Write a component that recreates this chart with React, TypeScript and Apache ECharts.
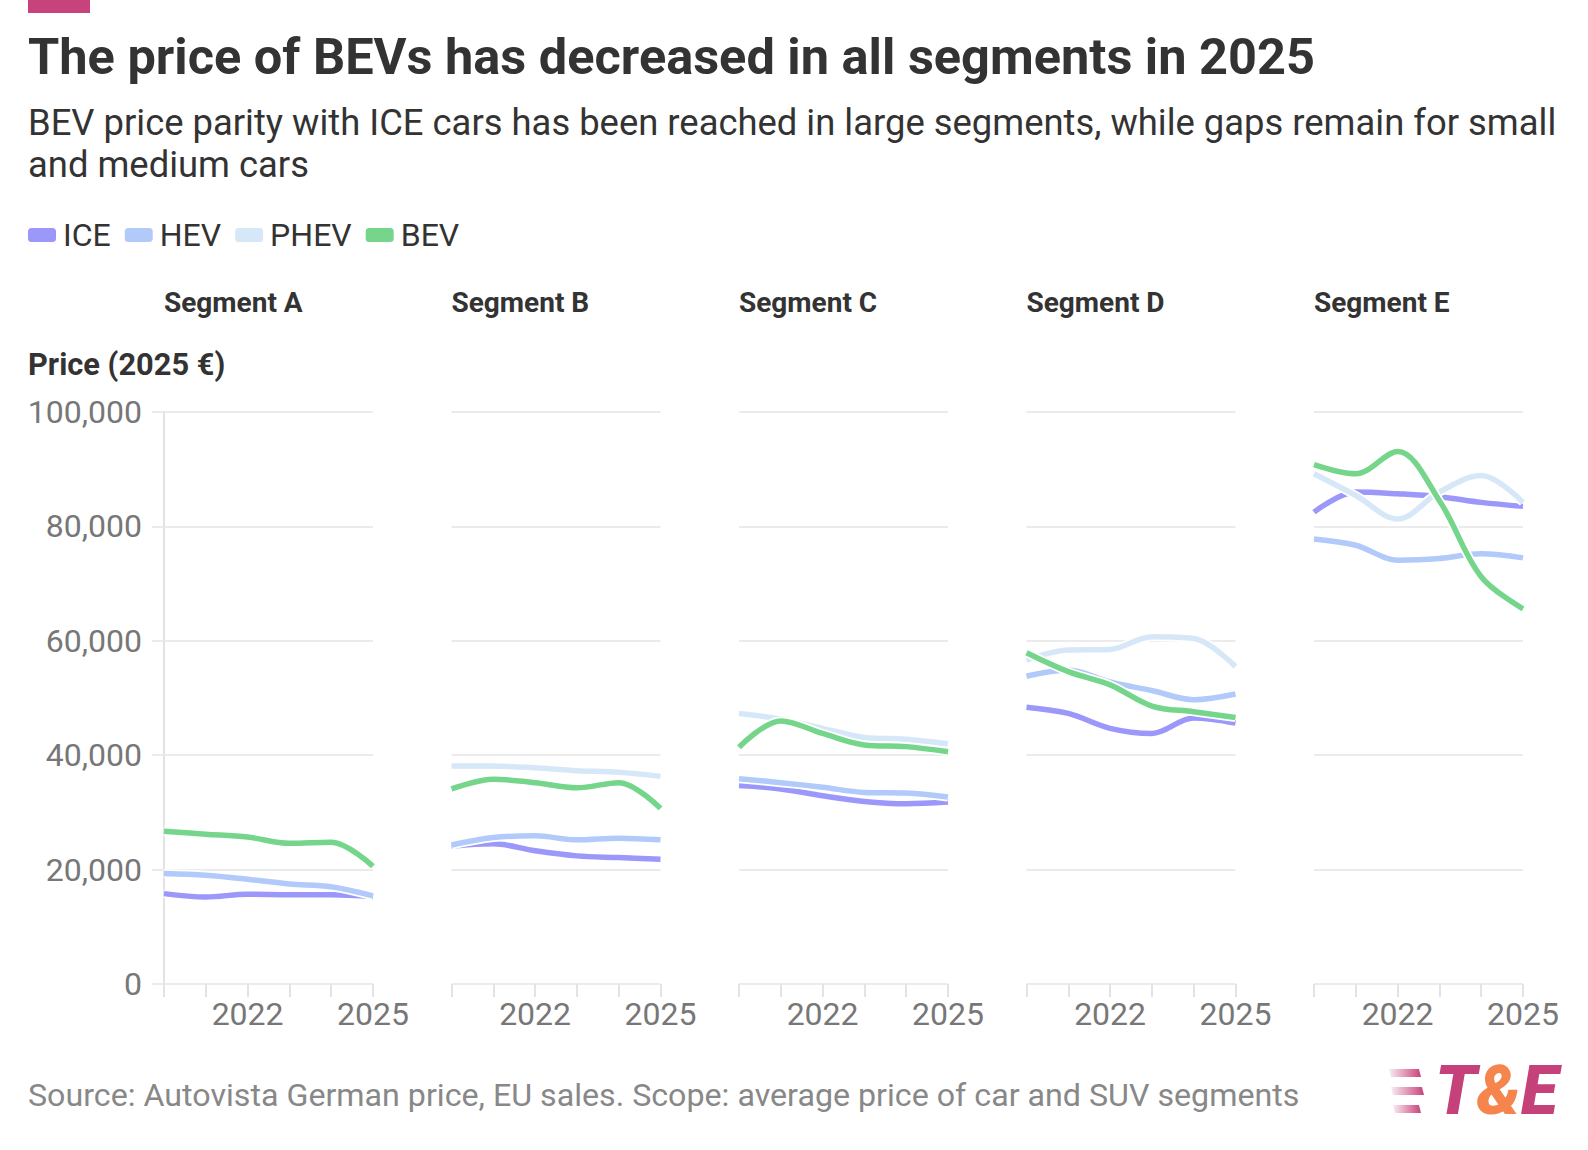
import React, { useEffect, useRef } from 'react';
import * as echarts from 'echarts';

const years = ['2020', '2021', '2022', '2023', '2024', '2025'];
const labelledYears = ['2022', '2025'];
const segments = ['Segment A', 'Segment B', 'Segment C', 'Segment D', 'Segment E'];
const powertrains = ['ICE', 'HEV', 'PHEV', 'BEV'];

// one row per segment, one value per year (2025 €)
const iceData = [
  [15800, 15200, 15700, 15600, 15600, 15300],
  [24100, 24500, 23300, 22400, 22100, 21800],
  [34700, 34100, 32900, 31900, 31500, 31800],
  [48400, 47300, 44700, 43800, 46500, 45600],
  [82500, 86000, 85700, 85200, 84200, 83500],
];
const hevData = [
  [19300, 19000, 18300, 17500, 17000, 15400],
  [24300, 25600, 25900, 25200, 25500, 25200],
  [35900, 35200, 34400, 33500, 33400, 32700],
  [53800, 54900, 52800, 51300, 49700, 50700],
  [77800, 76700, 74100, 74400, 75200, 74500],
];
const phevData = [
  null,
  [38100, 38100, 37800, 37300, 37000, 36300],
  [47300, 46300, 44700, 43100, 42800, 42000],
  [56600, 58400, 58500, 60700, 60400, 55500],
  [89200, 85400, 81300, 86000, 88900, 84200],
];
const bevData = [
  [26700, 26200, 25700, 24600, 24800, 20600],
  [34100, 35800, 35200, 34300, 35200, 30700],
  [41400, 46000, 43800, 41800, 41500, 40600],
  [57900, 54600, 52300, 48600, 47600, 46600],
  [90800, 89200, 93100, 84500, 71200, 65600],
];

const colors = ['#9b98fa', '#b2caf9', '#d6e8f8', '#74d58b'];
const FONT = 'Roboto, "Noto Sans", sans-serif';
const GRID_COLOR = '#ebebeb';

const PriceChart: React.FC = () => {
  const chartRef = useRef<HTMLDivElement>(null);

  useEffect(() => {
    document.body.style.margin = '0';
    if (!chartRef.current) return;
    const chart = echarts.init(chartRef.current, null, { renderer: 'svg' });

    const allData = [iceData, hevData, phevData, bevData];
    const gridLeft = 164;
    const gridStep = 287.5;
    const gridWidth = 209;

    const grids = segments.map((_, i) => ({
      left: gridLeft + gridStep * i,
      top: 412,
      width: gridWidth,
      height: 572,
    }));

    const xAxes = segments.map((_, i) => ({
      type: 'category',
      gridIndex: i,
      data: years,
      boundaryGap: false,
      axisLine: { show: false },
      axisTick: { show: true, interval: 0, length: 13, lineStyle: { color: '#e3e3e3', width: 2 } },
      axisLabel: {
        interval: 0,
        margin: 14,
        fontSize: 32,
        fontFamily: FONT,
        color: '#777',
        formatter: (v: string) => (labelledYears.includes(v) ? v : ''),
      },
      splitLine: { show: false },
    }));

    const yAxes = segments.map((_, i) => ({
      type: 'value',
      gridIndex: i,
      min: 0,
      max: 100000,
      interval: 20000,
      axisLine: { show: i === 0, lineStyle: { color: '#e3e3e3', width: 2 } },
      axisTick: { show: i === 0, length: 12, lineStyle: { color: GRID_COLOR, width: 2 } },
      axisLabel: {
        show: i === 0,
        margin: 22,
        fontSize: 32,
        fontFamily: FONT,
        color: '#777',
        formatter: (v: number) => v.toLocaleString('en-US'),
      },
      splitLine: { show: true, lineStyle: { color: GRID_COLOR, width: 2 } },
    }));

    // each line gets a thin white halo drawn just beneath it
    const series: any[] = [];
    segments.forEach((_, i) => {
      powertrains.forEach((name, k) => {
        const values = allData[k][i];
        if (!values) return;
        const common = {
          type: 'line',
          xAxisIndex: i,
          yAxisIndex: i,
          data: values,
          symbol: 'none',
          smooth: 0.35,
          silent: true,
        };
        series.push({
          ...common,
          name: `${name} halo`,
          color: '#fff',
          lineStyle: { color: '#fff', width: 9 },
          z: 2 + k * 2,
        });
        series.push({
          ...common,
          name,
          color: colors[k],
          itemStyle: { color: colors[k] },
          lineStyle: { color: colors[k], width: 5.5 },
          z: 3 + k * 2,
        });
      });
    });

    const textEl = (text: string, x: number, y: number, font: string, fill: string) => ({
      type: 'text',
      x,
      y,
      style: { text, font, fill, textVerticalAlign: 'middle', verticalAlign: 'middle' },
    });

    const graphic: any[] = [
      { type: 'rect', shape: { x: 28, y: 0, width: 62, height: 13 }, style: { fill: '#c8437b' } },
      textEl('The price of BEVs has decreased in all segments in 2025', 28, 56, `bold 50.5px ${FONT}`, '#333'),
      textEl(
        'BEV price parity with ICE cars has been reached in large segments, while gaps remain for small',
        28, 122, `36.4px ${FONT}`, '#333'
      ),
      textEl('and medium cars', 28, 164, `36.4px ${FONT}`, '#333'),
      textEl('Price (2025 €)', 28, 364, `bold 30.8px ${FONT}`, '#333'),
      textEl(
        'Source: Autovista German price, EU sales. Scope: average price of car and SUV segments',
        28, 1095, `32.2px ${FONT}`, '#888'
      ),
      ...segments.map((s, i) => textEl(s, gridLeft + gridStep * i, 302, `bold 28px ${FONT}`, '#333')),
    ];

    // T&E logo: three fading stripes and the wordmark
    const stripeYs = [1069, 1087, 1105];
    stripeYs.forEach((sy, j) => {
      graphic.push({
        type: 'polygon',
        shape: {
          points: [
            [1389 + j * 2, sy],
            [1419 + (j === 1 ? 3 : 0), sy],
            [1421 + (j === 1 ? 3 : 0), sy + 8],
            [1391 + j * 2, sy + 8],
          ],
        },
        style: {
          fill: new echarts.graphic.LinearGradient(0, 0, 1, 0, [
            { offset: 0, color: 'rgba(200,67,123,0.1)' },
            { offset: 1, color: 'rgba(200,67,123,1)' },
          ]),
        },
      });
    });
    graphic.push({
      type: 'text',
      x: 1435,
      y: 1091,
      style: {
        text: '{t|T}{a|&}{t|E}',
        verticalAlign: 'middle',
        textVerticalAlign: 'middle',
        rich: {
          t: { fill: '#c4417a', color: '#c4417a', font: `italic 900 68px ${FONT}` },
          a: { fill: '#f5854d', color: '#f5854d', font: `italic 900 68px ${FONT}` },
        },
      },
    });

    chart.setOption({
      animation: false,
      textStyle: { fontFamily: FONT },
      legend: {
        data: powertrains,
        left: 28,
        top: 219,
        padding: 0,
        icon: 'roundRect',
        itemWidth: 28,
        itemHeight: 14,
        itemGap: 14,
        textStyle: { fontSize: 32, color: '#333', fontFamily: FONT, padding: [0, 0, 0, 2] },
      },
      grid: grids,
      xAxis: xAxes,
      yAxis: yAxes,
      series,
      graphic,
    });

    return () => {
      chart.dispose();
    };
  }, []);

  return <div ref={chartRef} style={{ width: '1588px', height: '1150px' }} />;
};

export default function App() {
  return <PriceChart />;
}
